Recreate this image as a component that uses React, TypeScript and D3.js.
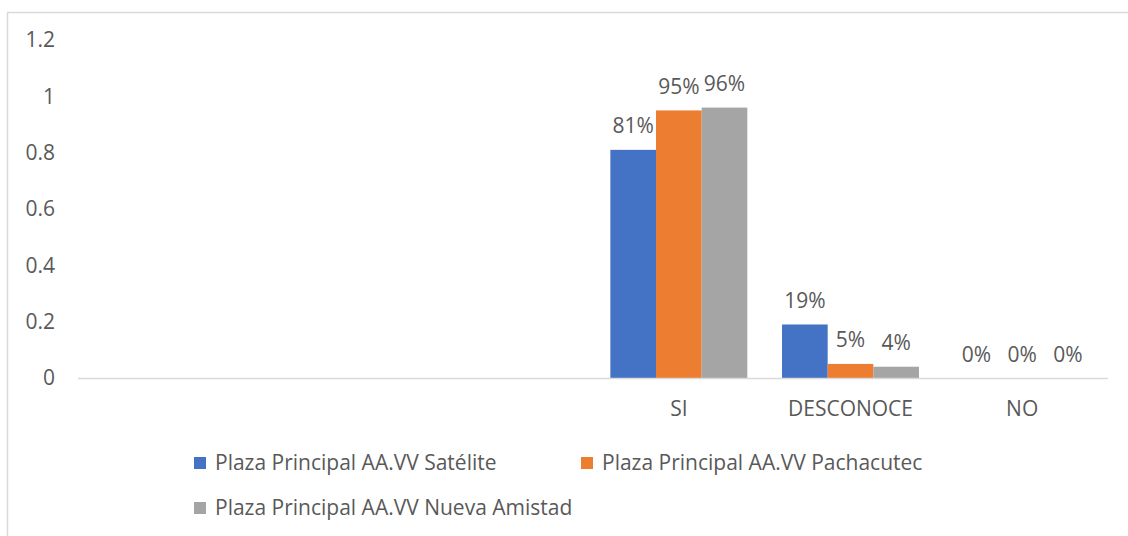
import React from "react";
import * as d3 from "d3";

const categories = ["", "", "", "SI", "DESCONOCE", "NO"];
const seriesNames = [
  "Plaza Principal AA.VV Satélite",
  "Plaza Principal AA.VV Pachacutec",
  "Plaza Principal AA.VV Nueva Amistad",
];
const satelite = [null, null, null, 0.81, 0.19, 0];
const pachacutec = [null, null, null, 0.95, 0.05, 0];
const nuevaAmistad = [null, null, null, 0.96, 0.04, 0];
const yTicks = [0, 0.2, 0.4, 0.6, 0.8, 1, 1.2];
const colors = ["#4472C4", "#ED7D31", "#A5A5A5"];

const W = 1128;
const H = 536;
const FONT = "'Open Sans', sans-serif";
const TXT = "#595959";
const FS = 21;

export default function App() {
  const series = [satelite, pachacutec, nuevaAmistad];
  const x = d3.scaleBand<string>().domain(categories.map((_, i) => String(i))).range([78, 1108]).paddingInner(0).paddingOuter(0);
  const y = d3.scaleLinear().domain([0, 1.2]).range([378, 40]);
  const slot = x.bandwidth();
  const inner = d3.scaleBand<string>().domain(["0", "1", "2"]).range([0, slot]).paddingInner(0).paddingOuter(0.38);

  return (
    <svg width={W} height={H} style={{ position: "absolute", left: 0, top: 0, fontFamily: FONT }}>
      <rect x={0} y={0} width={W} height={H} fill="#fff" />
      <rect x={7.5} y={12.5} width={1130} height={540} fill="none" stroke="#D9D9D9" strokeWidth={1.5} />
      {yTicks.map((t) => (
        <text key={t} x={55} y={y(t)} dy="0.35em" textAnchor="end" fontSize={FS} fill={TXT}>
          {d3.format("")(t)}
        </text>
      ))}
      {series.map((vals, si) =>
        vals.map((v, ci) =>
          v === null ? null : (
            <g key={`${si}-${ci}`}>
              <rect
                x={(x(String(ci)) as number) + (inner(String(si)) as number)}
                y={y(v)}
                width={inner.bandwidth()}
                height={378 - y(v)}
                fill={colors[si]}
              />
              <text
                x={(x(String(ci)) as number) + (inner(String(si)) as number) + inner.bandwidth() / 2}
                y={y(v) - 16.5}
                textAnchor="middle"
                fontSize={FS}
                fill={TXT}
              >
                {Math.round(v * 100)}%
              </text>
            </g>
          )
        )
      )}
      <line x1={78} x2={1108} y1={378.5} y2={378.5} stroke="#D9D9D9" strokeWidth={1.5} />
      {categories.map((c, i) => (
        <text key={i} x={(x(String(i)) as number) + slot / 2} y={409} dy="0.35em" textAnchor="middle" fontSize={FS} fill={TXT}>
          {c}
        </text>
      ))}
      {[
        { i: 0, x: 194, y: 463 },
        { i: 1, x: 581, y: 463 },
        { i: 2, x: 194, y: 508 },
      ].map((l) => (
        <g key={l.i}>
          <rect x={l.x} y={l.y - 6} width={12} height={12} fill={colors[l.i]} />
          <text x={l.x + 21} y={l.y} dy="0.35em" fontSize={FS} fill={TXT}>
            {seriesNames[l.i]}
          </text>
        </g>
      ))}
    </svg>
  );
}
